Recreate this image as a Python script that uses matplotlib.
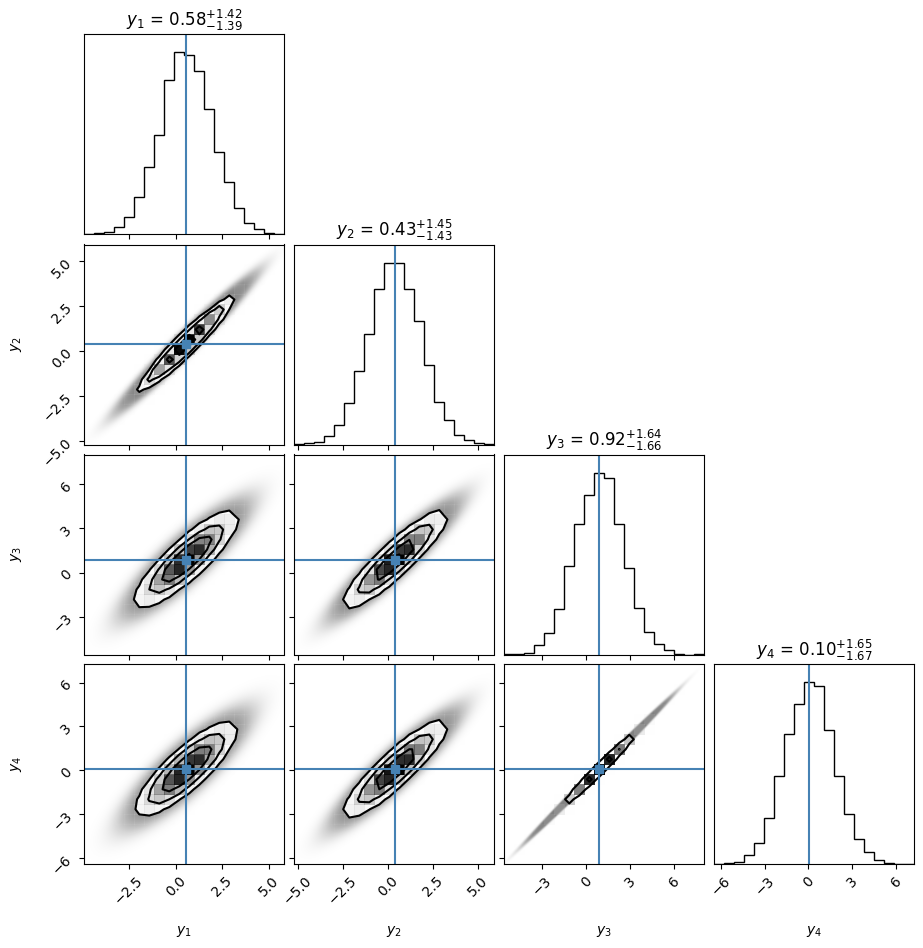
import numpy as np
import matplotlib
matplotlib.use("Agg")
import matplotlib.pyplot as plt
from matplotlib.colors import LinearSegmentedColormap

# ---------------- data ----------------
labels = [r"$y_1$", r"$y_2$", r"$y_3$", r"$y_4$"]
medians = [0.58, 0.43, 0.92, 0.10]
err_minus = [1.39, 1.43, 1.66, 1.67]
err_plus = [1.42, 1.45, 1.64, 1.65]
truths = [0.55, 0.40, 0.88, 0.05]
ranges = [(-4.90, 5.83), (-5.19, 5.92), (-5.57, 8.03), (-6.45, 7.25)]
ticks = [[-2.5, 0.0, 2.5, 5.0],
         [-5.0, -2.5, 0.0, 2.5, 5.0],
         [-3, 0, 3, 6],
         [-6, -3, 0, 3, 6]]

# 20-bin marginal histograms (relative counts)
hist_y1 = [1, 5, 8, 21, 51, 113, 203, 297, 463, 546, 537, 490, 377, 248, 156, 78, 33, 15, 5, 1]
hist_y2 = [1, 4, 7, 24, 57, 123, 221, 332, 467, 545, 543, 467, 371, 239, 128, 74, 27, 12, 4, 1]
hist_y3 = [1, 3, 6, 28, 66, 138, 267, 393, 480, 546, 531, 393, 261, 141, 68, 31, 13, 1, 0, 1]
hist_y4 = [1, 3, 6, 27, 64, 138, 265, 393, 483, 547, 537, 405, 267, 152, 75, 36, 13, 3, 0, 1]
hists = [hist_y1, hist_y2, hist_y3, hist_y4]

# pairwise correlations estimated from the 2-D panels
corr_pairs = {(1, 0): 0.975, (2, 0): 0.87, (2, 1): 0.92,
              (3, 0): 0.85, (3, 1): 0.91, (3, 2): 0.9995}
n_samples = 10000

# ---------------- styling ----------------
truth_color = "#4682b4"
W, Hpx = 923, 948
col_left = [84.3, 294.3, 504.3, 714.3]
row_top = [34.3, 244.5, 454.5, 664.3]
size = 200.0
nbins = 20
cloud_max_alpha = 0.5

white_cmap = LinearSegmentedColormap.from_list("white_cmap", [(1, 1, 1), (1, 1, 1)], N=2)
density_cmap = LinearSegmentedColormap.from_list("density_cmap", ["k", (1, 1, 1, 0)])
levels = 1.0 - np.exp(-0.5 * np.arange(0.5, 2.1, 0.5) ** 2)

stds = [(a + b) / 2 for a, b in zip(err_minus, err_plus)]


def gauss(xx, yy, mx, my, sx, sy, r):
    zx = (xx - mx) / sx
    zy = (yy - my) / sy
    q = (zx ** 2 - 2 * r * zx * zy + zy ** 2) / (1 - r ** 2)
    return np.exp(-0.5 * q) / (2 * np.pi * sx * sy * np.sqrt(1 - r ** 2))


fig = plt.figure(figsize=(W / 100, Hpx / 100), dpi=100)

axes = {}
for i in range(4):
    for j in range(i + 1):
        l = col_left[j] / W
        b = 1 - (row_top[i] + size) / Hpx
        ax = fig.add_axes([l, b, size / W, size / Hpx])
        axes[(i, j)] = ax

for i in range(4):
    for j in range(i + 1):
        ax = axes[(i, j)]
        if i == j:
            x0, x1 = ranges[i]
            edges = np.linspace(x0, x1, nbins + 1)
            counts = np.array(hists[i], dtype=float)
            ax.hist(edges[:-1], bins=edges, weights=counts, histtype="step", color="k", lw=1.0)
            ax.axvline(truths[i], color=truth_color, lw=1.5)
            ax.set_xlim(x0, x1)
            ax.set_ylim(0, 1.1 * counts.max())
            ax.set_yticks([])
            title = r"${{{0}}}_{{-{1}}}^{{+{2}}}$".format(
                "%.2f" % medians[i], "%.2f" % err_minus[i], "%.2f" % err_plus[i])
            ax.set_title("{0} = {1}".format(labels[i], title), fontsize=12)
        else:
            x0, x1 = ranges[j]
            y0, y1 = ranges[i]
            mx, my = medians[j], medians[i]
            sx, sy = stds[j], stds[i]
            r = corr_pairs[(i, j)]
            # binned expected counts (fine integration inside each bin)
            sub = 20
            nf = nbins * sub
            xf = x0 + (np.arange(nf) + 0.5) * (x1 - x0) / nf
            yf = y0 + (np.arange(nf) + 0.5) * (y1 - y0) / nf
            XX, YY = np.meshgrid(xf, yf)
            P = gauss(XX, YY, mx, my, sx, sy, r)
            cell = (x1 - x0) / nf * (y1 - y0) / nf
            Ht = P.reshape(nbins, sub, nbins, sub).sum(axis=(1, 3)) * cell * n_samples
            H = Ht.T  # shape (nx, ny)
            X = np.linspace(x0, x1, nbins + 1)
            Y = np.linspace(y0, y1, nbins + 1)

            # point cloud rendered as density of faint markers
            dxp = (x1 - x0) / size
            dyp = (y1 - y0) / size
            bx, by = 1.2 * dxp, 1.2 * dyp
            sxb, syb = np.sqrt(sx ** 2 + bx ** 2), np.sqrt(sy ** 2 + by ** 2)
            rb = r * sx * sy / (sxb * syb)
            Pb = gauss(XX, YY, mx, my, sxb, syb, rb)
            lam = n_samples * Pb * (np.pi * 2.1 ** 2) * dxp * dyp
            alpha = cloud_max_alpha * (1 - np.exp(-0.1 * lam / cloud_max_alpha))
            rgba = np.zeros((nf, nf, 4))
            rgba[..., 3] = alpha
            ax.imshow(rgba, extent=(x0, x1, y0, y1), origin="lower", aspect="auto",
                      interpolation="bilinear", zorder=-1)

            # contour levels (corner algorithm)
            Hflat = H.flatten()
            inds = np.argsort(Hflat)[::-1]
            Hflat = Hflat[inds]
            sm = np.cumsum(Hflat)
            sm /= sm[-1]
            V = np.empty(len(levels))
            for k, v0 in enumerate(levels):
                try:
                    V[k] = Hflat[sm <= v0][-1]
                except IndexError:
                    V[k] = Hflat[0]
            V.sort()
            m = np.diff(V) == 0
            while np.any(m):
                V[np.where(m)[0][0]] *= 1.0 - 1e-4
                m = np.diff(V) == 0
            V.sort()

            X1c = 0.5 * (X[1:] + X[:-1])
            Y1c = 0.5 * (Y[1:] + Y[:-1])
            H2 = H.min() + np.zeros((H.shape[0] + 4, H.shape[1] + 4))
            H2[2:-2, 2:-2] = H
            H2[2:-2, 1] = H[:, 0]
            H2[2:-2, -2] = H[:, -1]
            H2[1, 2:-2] = H[0]
            H2[-2, 2:-2] = H[-1]
            H2[1, 1] = H[0, 0]
            H2[1, -2] = H[0, -1]
            H2[-2, 1] = H[-1, 0]
            H2[-2, -2] = H[-1, -1]
            X2 = np.concatenate([X1c[0] + np.array([-2, -1]) * np.diff(X1c[:2]), X1c,
                                 X1c[-1] + np.array([1, 2]) * np.diff(X1c[-2:])])
            Y2 = np.concatenate([Y1c[0] + np.array([-2, -1]) * np.diff(Y1c[:2]), Y1c,
                                 Y1c[-1] + np.array([1, 2]) * np.diff(Y1c[-2:])])

            ax.contourf(X2, Y2, H2.T, [V.min(), H.max()], cmap=white_cmap, antialiased=False)
            ax.pcolor(X, Y, H.max() - H.T, cmap=density_cmap)
            ax.contour(X2, Y2, H2.T, V, colors="k", linewidths=1.5)

            ax.axvline(truths[j], color=truth_color, lw=1.5)
            ax.axhline(truths[i], color=truth_color, lw=1.5)
            ax.plot(truths[j], truths[i], "s", color=truth_color, ms=6)
            ax.set_xlim(x0, x1)
            ax.set_ylim(y0, y1)
            ax.set_yticks(ticks[i])
            if j == 0:
                ax.set_ylabel(labels[i], fontsize=10)
                ax.yaxis.set_label_coords(-0.3, 0.5)
                for t in ax.get_yticklabels():
                    t.set_rotation(45)
            else:
                ax.set_yticklabels([])

        ax.set_xticks(ticks[j])
        if i == 3:
            ax.set_xlabel(labels[j], fontsize=10)
            ax.xaxis.set_label_coords(0.5, -0.3)
            for t in ax.get_xticklabels():
                t.set_rotation(45)
        else:
            ax.set_xticklabels([])

fig.savefig("out.png", dpi=100)
